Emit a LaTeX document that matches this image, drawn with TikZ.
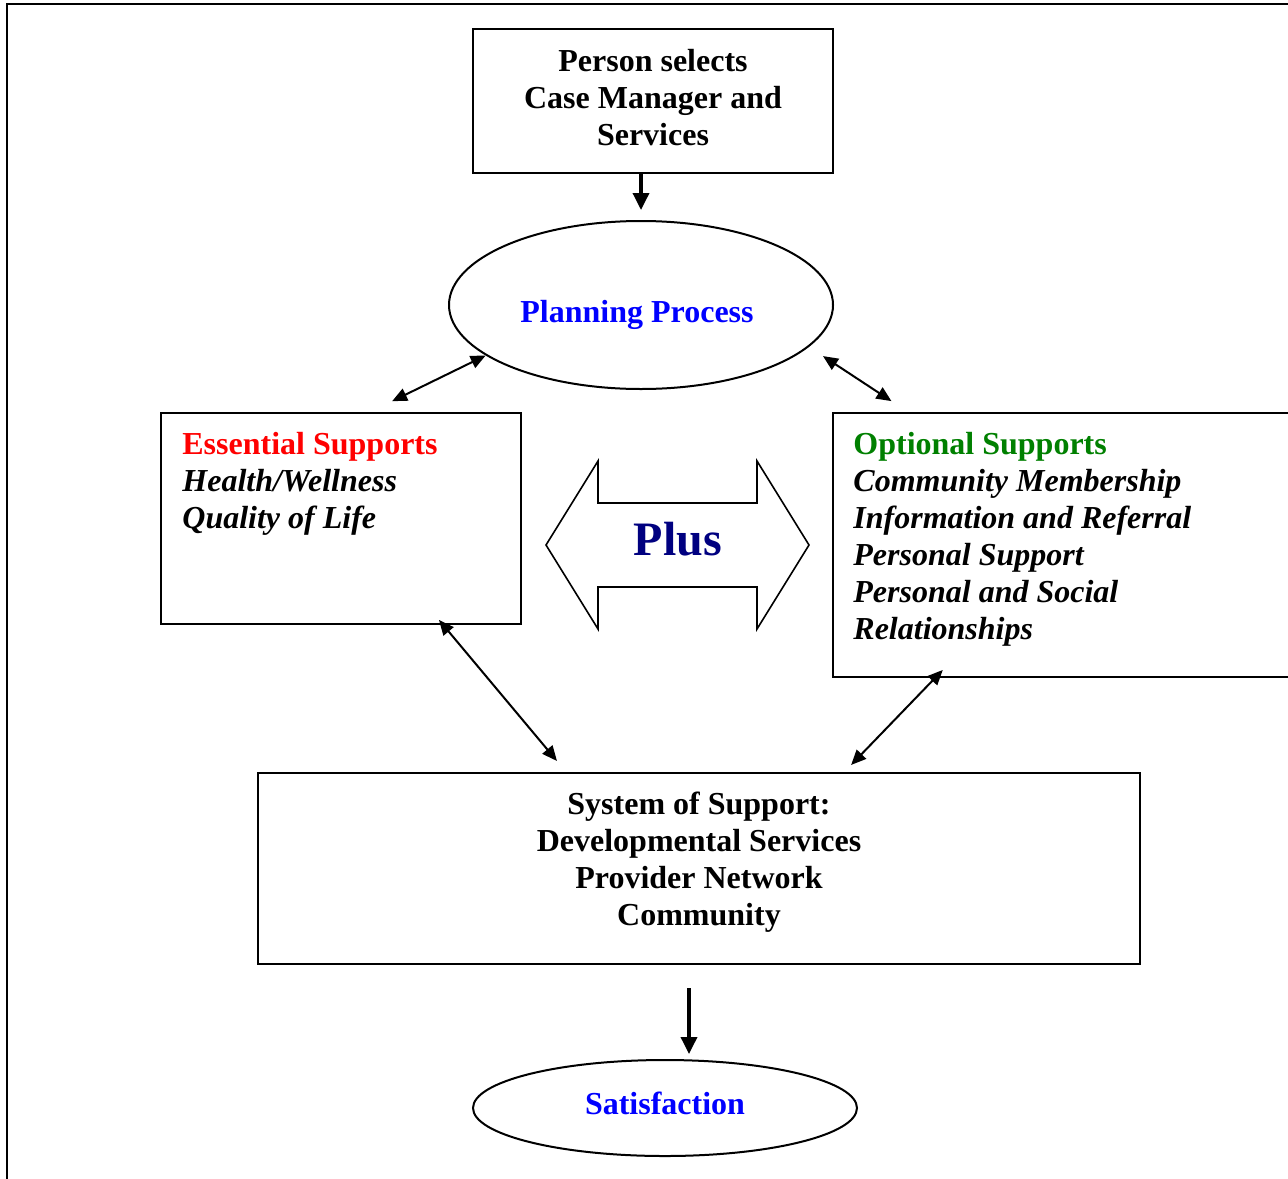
\documentclass[tikz,border=0pt]{standalone}
\usepackage{fontspec}
\setmainfont{Liberation Serif}
\usetikzlibrary{shapes.geometric,arrows.meta}
\definecolor{plusblue}{RGB}{0,0,128}
\definecolor{optgreen}{RGB}{0,128,0}

\begin{document}
\begin{tikzpicture}[x=0.5pt,y=0.5pt]
\tikzstyle{every node}+=[inner sep=0pt, font=\fontsize{16}{18.5}\selectfont\bfseries]
\tikzstyle{box}=[draw=black, line width=1pt, rectangle]
\tikzstyle{oval}=[draw=black, line width=1pt, ellipse]
\tikzstyle{link}=[black, line width=1pt, {Triangle[length=7.5pt,width=6.5pt]}-{Triangle[length=7.5pt,width=6.5pt]}]
\tikzstyle{down}=[black, line width=1.75pt, -{Triangle[length=8.5pt,width=8pt]}]
\useasboundingbox (0,0) rectangle (1288,-1178);
\draw [black, line width=1.2pt] (7,-1190) -- (7,-4) -- (1300,-4);
\node [box, minimum width=180pt, minimum height=72pt] (person) at (653,-101) {};
\node [align=center] (persontext) at ([yshift=1.75pt]person.center) {Person selects\\Case Manager and\\Services};
\node [oval, minimum width=192pt, minimum height=84pt] (plan) at (641,-305) {};
\node [text=blue] (plantext) at ([shift={(-2pt,-5pt)}]plan.center) {Planning Process};
\node [box, minimum width=180pt, minimum height=105.5pt] (ess) at (341,-518.5) {};
\node [anchor=north west, align=left] (esstext) at ([shift={(11pt,-10pt)}]ess.north west) {\textcolor{red}{Essential Supports}\\\textit{Health/Wellness}\\\textit{Quality of Life}};
\node [box, minimum width=233.5pt, minimum height=132pt] (opt) at (1066.5,-545) {};
\node [anchor=north west, align=left] (opttext) at ([shift={(10.5pt,-10pt)}]opt.north west) {\textcolor{optgreen}{Optional Supports}\\\textit{Community Membership}\\\textit{Information and Referral}\\\textit{Personal Support}\\\textit{Personal and Social}\\\textit{Relationships}};
\draw [black, line width=0.8pt] (546,-545) -- (598,-461) -- (598,-503) -- (757,-503) -- (757,-461) -- (809,-545) -- (757,-629) -- (757,-587) -- (598,-587) -- (598,-629) -- cycle;
\node [font=\fontsize{24}{28}\selectfont\bfseries, text=plusblue] (plus) at (678,-539) {Plus};
\node [box, minimum width=441pt, minimum height=95.5pt] (sys) at (699,-868.5) {};
\node [align=center] (systext) at ([yshift=3pt]sys.center) {System of Support:\\Developmental Services\\Provider Network\\Community};
\node [oval, minimum width=192pt, minimum height=48pt] (sat) at (665,-1108) {};
\node [text=blue] (sattext) at ([yshift=2.5pt]sat.center) {Satisfaction};
\draw [down, shorten >=5pt] ([xshift=-6pt]person.south) -- (plan.north);
\draw [link, shorten >=12.3pt] (plan.198) -- ([xshift=14.5pt]ess.north);
\draw [link, shorten <=8.4pt, shorten >=9.9pt] (plan.-14) -- ([xshift=38pt]opt.north west);
\draw [link, shorten <=-3.3pt, shorten >=7.2pt] ([xshift=-39.4pt]ess.south east) -- ([xshift=-66.4pt]sys.north);
\draw [link, shorten <=-5.6pt, shorten >=4.9pt] ([xshift=51.5pt]opt.south west) -- ([xshift=72.65pt]sys.north);
\draw [down, shorten <=11.5pt, shorten >=2.5pt] ([xshift=-5pt]sys.south) -- ([xshift=12pt]sat.north);
\end{tikzpicture}
\end{document}
